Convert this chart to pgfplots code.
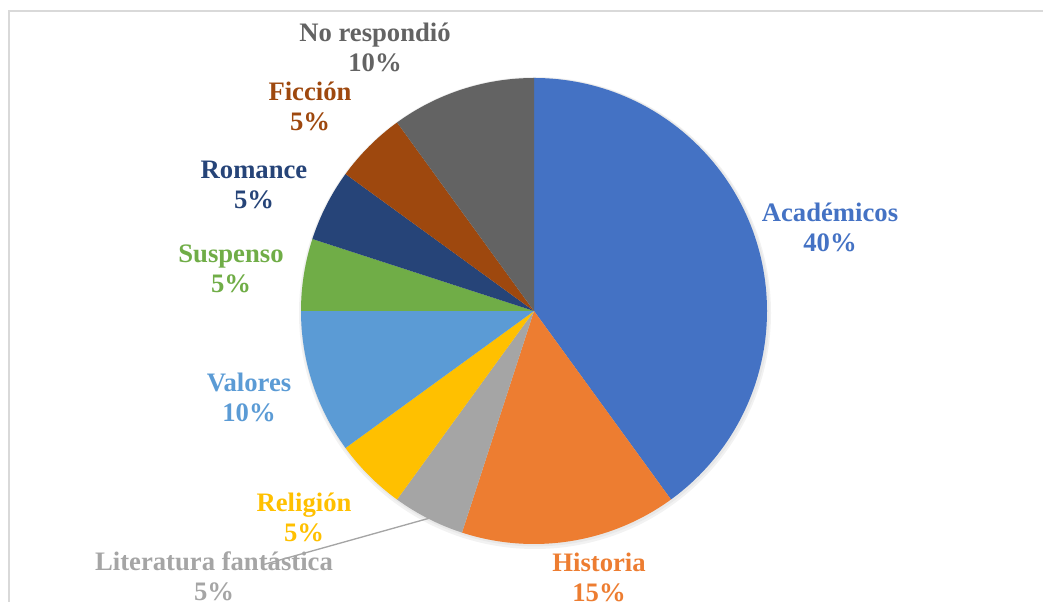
\documentclass[border=0pt]{standalone}
\usepackage{pgfplots}
\pgfplotsset{compat=1.18}
\usepackage{fontspec}
\setmainfont{Liberation Serif}
\definecolor{cA}{HTML}{4472C4}
\definecolor{cB}{HTML}{ED7D31}
\definecolor{cC}{HTML}{A5A5A5}
\definecolor{cD}{HTML}{FFC000}
\definecolor{cE}{HTML}{5B9BD5}
\definecolor{cF}{HTML}{70AD47}
\definecolor{cG}{HTML}{264478}
\definecolor{cH}{HTML}{9E480E}
\definecolor{cI}{HTML}{636363}
\definecolor{frame}{HTML}{D9D9D9}
% #1 = cumulative percentage before the slice, #2 = slice percentage, #3 = colour
\newcommand\pieslice[3]{%
  \fill[#3] (axis cs:534,291) -- ++({90-3.6*(#1)}:174.75pt)
    arc[start angle={90-3.6*(#1)}, end angle={90-3.6*((#1)+(#2))}, radius=174.75pt] -- cycle;}
\newcommand\lbl[4]{% x, y (px from top), colour, text
  \node[text=#3, align=center, inner sep=0pt, font=\fontsize{20}{22.5}\selectfont\bfseries]
    at (axis cs:#1,{602-(#2)}) {#4};}
\begin{document}
\begin{tikzpicture}
\begin{axis}[
  hide axis, scale only axis,
  width=782.25pt, height=451.5pt,
  xmin=0, xmax=1043, ymin=0, ymax=602,
  clip=false]
% frame
\draw[frame, line width=1.2pt] (axis cs:9,-5) -- (axis cs:9,591) -- (axis cs:1050,591);
% soft shadow
\fill[black!5] (axis cs:535,289) circle[radius=177pt];
\fill[black!9] (axis cs:535,290) circle[radius=175.8pt];
% slices (values in percent)
\pieslice{0}{40}{cA}
\pieslice{40}{15}{cB}
\pieslice{55}{5}{cC}
\pieslice{60}{5}{cD}
\pieslice{65}{10}{cE}
\pieslice{75}{5}{cF}
\pieslice{80}{5}{cG}
\pieslice{85}{5}{cH}
\pieslice{90}{10}{cI}
% leader line
\draw[cC, line width=1pt] (axis cs:262,{602-565}) -- (axis cs:430,{602-518});
% labels
\lbl{830}{227}{cA}{Académicos\\40\%}
\lbl{599}{577}{cB}{Historia\\15\%}
\lbl{214}{576}{cC}{Literatura fantástica\\5\%}
\lbl{304}{517}{cD}{Religión\\5\%}
\lbl{249}{397}{cE}{Valores\\10\%}
\lbl{231}{269}{cF}{Suspenso\\5\%}
\lbl{254}{185}{cG}{Romance\\5\%}
\lbl{310}{106}{cH}{Ficción\\5\%}
\lbl{375}{47}{cI}{No respondió\\10\%}
\end{axis}
\pgfresetboundingbox
\path[use as bounding box] (current axis.south west) rectangle (current axis.north east);
\end{tikzpicture}
\end{document}
